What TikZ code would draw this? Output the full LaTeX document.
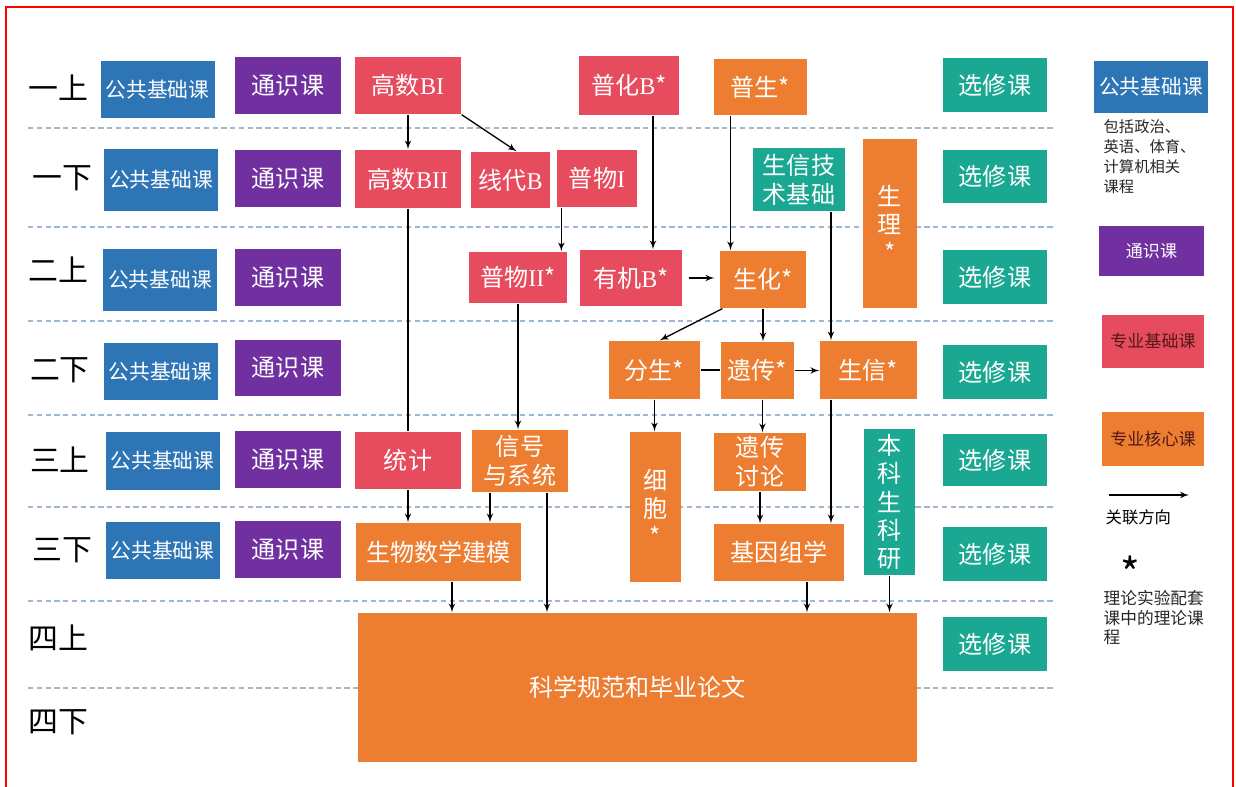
\documentclass[tikz,border=0pt]{standalone}
\usepackage{fontspec}
\setmainfont{Noto Sans CJK SC}
\newfontfamily\latfont{Liberation Serif}
\usetikzlibrary{positioning,arrows,calc}
\definecolor{pubblue}{RGB}{46,117,182}
\definecolor{genpurple}{RGB}{112,48,160}
\definecolor{basered}{RGB}{231,76,94}
\definecolor{coreorange}{RGB}{237,125,49}
\definecolor{electteal}{RGB}{26,168,146}
\definecolor{termdash}{RGB}{160,185,208}
\definecolor{legendtext}{RGB}{80,24,24}
\tikzset{
    >=latex',
    course/.style = {
        shape=rectangle,
        inner sep=0pt,
        text=white,
        align=center,
        font=\fontsize{13.7}{16.4}\selectfont
    },
    pubcourse/.style = {
        course,
        fill=pubblue,
        minimum width=2.28cm,
        minimum height=1.16cm,
        font=\fontsize{11.8}{13.6}\selectfont
    },
    gencourse/.style = {
        course,
        fill=genpurple,
        minimum width=2.12cm,
        minimum height=1.14cm
    },
    electcourse/.style = {
        course,
        fill=electteal,
        minimum width=2.08cm,
        minimum height=1.07cm
    },
    basecourse/.style = {
        course,
        fill=basered
    },
    corecourse/.style = {
        course,
        fill=coreorange
    },
    tallcourse/.style = {
        course,
        font=\fontsize{13.7}{16}\selectfont
    },
    termlabel/.style = {
        font=\fontsize{17}{20}\selectfont
    },
    termline/.style = {
        draw=termdash,
        line width=0.6pt,
        dash pattern=on 3pt off 2pt
    },
    legendnote/.style = {
        anchor=north west,
        align=left,
        inner sep=0pt,
        text=black!85
    },
}
\begin{document}
\begin{tikzpicture}[line width=0.75pt]

            \useasboundingbox (0,0) rectangle (24.72,-15.72);
            \draw[red, line width=1.2pt] (0.12,-0.14) rectangle (24.66,-16);

            % term separators
            \draw[termline] (0.56,-2.56) -- (21.06,-2.56);
            \draw[termline] (0.56,-4.54) -- (21.06,-4.54);
            \draw[termline] (0.56,-6.42) -- (21.06,-6.42);
            \draw[termline] (0.56,-8.30) -- (21.06,-8.30);
            \draw[termline] (0.56,-10.14) -- (21.06,-10.14);
            \draw[termline] (0.56,-12.02) -- (21.06,-12.02);
            \draw[termline] (0.56,-13.76) -- (21.06,-13.76);

            % terms
            \node[termlabel] (t11) at (1.16,-1.76) {一上};
            \node[termlabel] (t12) at (1.24,-3.56) {一下};
            \node[termlabel] (t21) at (1.16,-5.40) {二上};
            \node[termlabel] (t22) at (1.20,-7.40) {二下};
            \node[termlabel] (t31) at (1.20,-9.20) {三上};
            \node[termlabel] (t32) at (1.24,-11.00) {三下};
            \node[termlabel] (t41) at (1.16,-12.76) {四上};
            \node[termlabel] (t42) at (1.16,-14.44) {四下};

            \node[pubcourse, minimum height=1.14cm] (pub1) at (3.15,-1.79) {公共基础课};
            \node[pubcourse, minimum height=1.24cm] (pub2) at (3.22,-3.60) {公共基础课};
            \node[pubcourse, minimum height=1.24cm] (pub3) at (3.20,-5.60) {公共基础课};
            \node[pubcourse, minimum height=1.14cm] (pub4) at (3.21,-7.43) {公共基础课};
            \node[pubcourse] (pub5) at (3.25,-9.22) {公共基础课};
            \node[pubcourse, minimum height=1.14cm] (pub6) at (3.25,-11.01) {公共基础课};

            \node[gencourse] (gen1) at (5.76,-1.71) {通识课};
            \node[gencourse] (gen2) at (5.76,-3.57) {通识课};
            \node[gencourse] (gen3) at (5.76,-5.55) {通识课};
            \node[gencourse, minimum height=1.12cm] (gen4) at (5.76,-7.36) {通识课};
            \node[gencourse] (gen5) at (5.76,-9.19) {通识课};
            \node[gencourse] (gen6) at (5.76,-10.99) {通识课};

            \node[electcourse] (elect1) at (19.90,-1.70) {选修课};
            \node[electcourse] (elect2) at (19.90,-3.53) {选修课};
            \node[electcourse] (elect3) at (19.90,-5.54) {选修课};
            \node[electcourse] (elect4) at (19.90,-7.44) {选修课};
            \node[electcourse, minimum height=1.04cm] (elect5) at (19.90,-9.20) {选修课};
            \node[electcourse] (elect6) at (19.90,-11.08) {选修课};
            \node[electcourse] (elect7) at (19.90,-12.88) {选修课};

            % courses
            \node[basecourse, minimum width=2.12cm, minimum height=1.14cm] (gsb1) at (8.16,-1.71) {高数{\latfont BI}};
            \node[basecourse, minimum width=2.00cm, minimum height=1.18cm] (puhua) at (12.58,-1.71) {普化{\latfont B}*};
            \node[corecourse, minimum width=1.86cm, minimum height=1.12cm] (pusheng) at (15.21,-1.74) {普生*};

            \node[basecourse, minimum width=2.12cm, minimum height=1.16cm] (gsb2) at (8.16,-3.58) {高数{\latfont BII}};
            \node[basecourse, minimum width=1.58cm, minimum height=1.12cm] (xiandai) at (10.21,-3.60) {线代{\latfont B}};
            \node[basecourse, minimum width=1.60cm, minimum height=1.14cm] (puwu1) at (11.94,-3.57) {普物{\latfont I}};
            \node[course, fill=electteal, minimum width=1.84cm, minimum height=1.26cm] (sxjs) at (15.98,-3.59) {生信技\\术基础};
            \node[tallcourse, fill=coreorange, minimum width=1.08cm, minimum height=3.38cm] (shengli) at (17.80,-4.47) {生\\理\\*};

            \node[basecourse, minimum width=1.96cm, minimum height=1.02cm] (puwu2) at (10.36,-5.55) {普物{\latfont II}*};
            \node[basecourse, minimum width=2.04cm, minimum height=1.12cm] (youji) at (12.62,-5.56) {有机{\latfont B}*};
            \node[corecourse, minimum width=1.72cm, minimum height=1.14cm] (shenghua) at (15.26,-5.59) {生化*};

            \node[corecourse, minimum width=1.82cm, minimum height=1.16cm] (fensheng) at (13.09,-7.40) {分生*};
            \node[corecourse, minimum width=1.46cm, minimum height=1.14cm] (yichuan) at (15.15,-7.41) {遗传*};
            \node[corecourse, minimum width=1.94cm, minimum height=1.16cm] (shengxin) at (17.37,-7.40) {生信*};

            \node[basecourse, minimum width=2.12cm, minimum height=1.14cm] (tongji) at (8.16,-9.21) {统计};
            \node[corecourse, minimum width=1.92cm, minimum height=1.24cm] (xinhao) at (10.40,-9.22) {信号\\与系统};
            \node[tallcourse, fill=coreorange, minimum width=1.02cm, minimum height=3.00cm] (xibao) at (13.11,-10.14) {细\\胞\\*};
            \node[corecourse, minimum width=1.84cm, minimum height=1.16cm] (ycjt) at (15.20,-9.24) {遗传\\讨论};
            \node[tallcourse, fill=electteal, minimum width=1.02cm, minimum height=2.92cm] (kyan) at (17.79,-10.04) {本\\科\\生\\科\\研};

            \node[corecourse, minimum width=3.30cm, minimum height=1.16cm] (swsx) at (8.77,-11.04) {生物数学建模};
            \node[corecourse, minimum width=2.60cm, minimum height=1.14cm] (jyzx) at (15.58,-11.05) {基因组学};

            \node[corecourse, minimum width=11.18cm, minimum height=2.98cm] (lunwen) at (12.75,-13.75) {科学规范和毕业论文};

            % links
            \path[draw, ->] (gsb1) -- (gsb2);
            \path[draw, ->] (gsb1.south east) -- (xiandai.78);
            \path[draw, ->] ($(puwu1.south west)+(0.1,0)$) -- ($(puwu1.south west |- puwu2.north)+(0.1,0)$);
            \path[draw, ->] ($(puhua.south)+(0.48,0)$) -- ($(puhua.south |- youji.north)+(0.48,0)$);
            \path[draw, ->] ($(pusheng.south)+(-0.6,0)$) -- ($(pusheng.south |- shenghua.north)+(-0.6,0)$);
            \path[draw, ->] ($(youji.east)+(0.12,0)$) -- ($(youji.east -| shenghua.west)+(-0.1,0)$);

            \path[draw] (gsb2) -- (tongji);
            \path[draw, ->] (tongji) -- (tongji |- swsx.north);
            \path[draw, ->] (puwu2) -- (puwu2 |- xinhao.north);
            \path[draw, ->] ($(xinhao.south)+(-0.6,0)$) -- ($(xinhao.south |- swsx.north)+(-0.6,0)$);
            \path[draw, ->] ($(xinhao.south)+(0.54,0)$) -- ($(xinhao.south |- lunwen.north)+(0.54,0)$);
            \path[draw, ->] ($(swsx.south)+(0.27,0)$) -- ($(swsx.south |- lunwen.north)+(0.27,0)$);

            \path[draw, ->] ($(shenghua.south west)+(0.06,0)$) -- (fensheng.80);
            \path[draw, ->] (shenghua.south) -- (shenghua.south |- yichuan.north);
            \path[draw, ->] ($(sxjs.south)+(0.64,0)$) -- ($(sxjs.south |- shengxin.north)+(0.64,0)$);
            \path[draw] (fensheng.east) -- (fensheng.east -| yichuan.west);
            \path[draw, ->] (yichuan.east) -- (yichuan.east -| shengxin.west);

            \path[draw, ->] (fensheng) -- (fensheng |- xibao.north);
            \path[draw, ->] ($(yichuan.south)+(0.1,0)$) -- ($(yichuan.south |- ycjt.north)+(0.1,0)$);
            \path[draw, ->] ($(shengxin.south)+(-0.75,0)$) -- ($(shengxin.south |- jyzx.north)+(-0.75,0)$);
            \path[draw, ->] (ycjt) -- (ycjt |- jyzx.north);
            \path[draw, ->] ($(jyzx.south)+(0.56,0)$) -- ($(jyzx.south |- lunwen.north)+(0.56,0)$);
            \path[draw, ->] (kyan) -- (kyan |- lunwen.north);

            % legend
            \node[pubcourse, minimum height=1.04cm] (lg_pub) at (23.02,-1.74) {公共基础课};
            \node[legendnote, font=\fontsize{8.7}{11.4}\selectfont] (lg_pubnote) at (22.06,-2.38) {包括政治、\\英语、体育、\\计算机相关\\课程};
            \node[gencourse, minimum width=2.10cm, minimum height=1.00cm, font=\fontsize{9.7}{12}\selectfont] (lg_gen) at (23.03,-5.02) {通识课};
            \node[basecourse, text=legendtext, minimum width=2.04cm, minimum height=1.06cm, font=\fontsize{9.7}{12}\selectfont] (lg_base) at (23.06,-6.83) {专业基础课};
            \node[corecourse, text=legendtext, minimum width=2.04cm, minimum height=1.08cm, font=\fontsize{9.7}{12}\selectfont] (lg_core) at (23.06,-8.78) {专业核心课};
            \coordinate (lg_from) at (22.18,-9.90);
            \coordinate (lg_to) at (23.78,-9.90);
            \path[draw, ->] (lg_from) -- (lg_to);
            \node[anchor=west, inner sep=0pt, font=\fontsize{9.3}{11}\selectfont] (lg_linknote) at (22.10,-10.34) {关联方向};
            \node[inner sep=0pt, font=\fontsize{24}{28}\selectfont] (lg_star) at (22.60,-11.45) {*};
            \node[legendnote, font=\fontsize{9.5}{11}\selectfont] (lg_starnote) at (22.06,-11.80) {理论实验配套\\课中的理论课\\程};

\end{tikzpicture}
\end{document}
